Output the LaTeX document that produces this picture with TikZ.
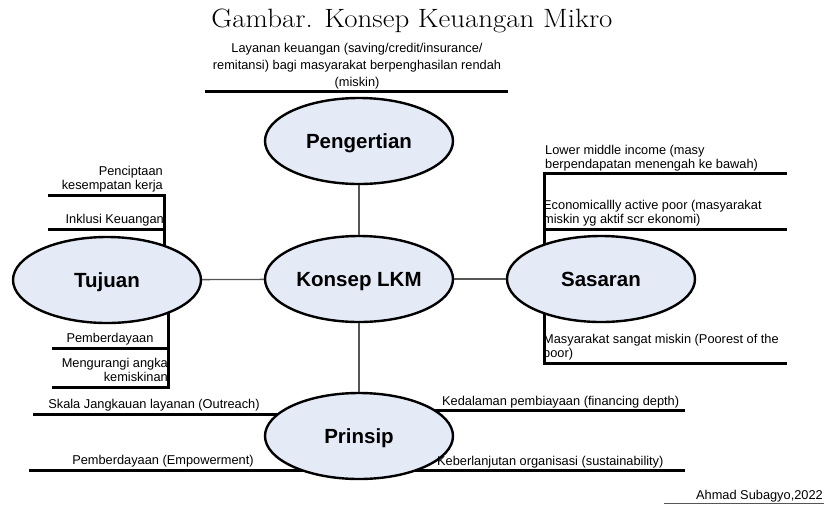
\documentclass[tikz,border=0pt]{standalone}
\usepackage{fontspec}
\setsansfont{Liberation Sans}
\usetikzlibrary{shapes.geometric,backgrounds}

\definecolor{bubblefill}{RGB}{228,234,246}
\definecolor{linkgray}{RGB}{85,85,85}

\begin{document}
\begin{tikzpicture}[x=1pt,y=-1pt,
  bubble/.style={ellipse, draw, line width=2.4pt, fill=bubblefill,
    minimum width=188pt, minimum height=86pt, inner sep=0pt,
    text height=14.5pt, text depth=0pt,
    font=\sffamily\bfseries\fontsize{20.5}{24}\selectfont},
  link/.style={draw=linkgray, line width=1.3pt},
  branch/.style={line width=3pt},
  note/.style={font=\sffamily\fontsize{12.8}{14.5}\selectfont, inner sep=0pt}]

\useasboundingbox (0,0) rectangle (824,504);

% Title
\node[anchor=base, font=\fontsize{26.5}{30}\selectfont] (title) at (412,27)
  {\scalebox{1.09}[1]{Gambar. Konsep Keuangan Mikro}};

% Bubbles
\node[bubble] (konsep)     at (359,279) {Konsep LKM};
\node[bubble] (pengertian) at (359,141) {Pengertian};
\node[bubble] (tujuan)     at (107,280) {Tujuan};
\node[bubble] (sasaran)    at (601,279) {Sasaran};
\node[bubble] (prinsip)    at (359,436) {Prinsip};

% Links to the centre
\draw[link] (konsep) -- (pengertian);
\draw[link] (konsep) -- (prinsip);
\draw[link] (konsep) -- (tujuan);
\draw[link] (konsep) -- (sasaran);

% Branch end points
\coordinate (pgL) at (205,91);   \coordinate (pgR) at (508,91);
\coordinate (tuA) at (164,195);  \coordinate (tuA1) at (48,195);
\coordinate (tuA2) at (48,229);  \coordinate (tuA2r) at (164,229);
\coordinate (tuB) at (168,387);  \coordinate (tuB1) at (52,387);
\coordinate (tuB2) at (52,348);  \coordinate (tuB2r) at (168,348);
\coordinate (saA) at (544,173);  \coordinate (saA1) at (787,173);
\coordinate (saA2) at (787,229); \coordinate (saA2l) at (544,229);
\coordinate (saB) at (544,363);  \coordinate (saB1) at (787,363);
\coordinate (prL1) at (33,414);  \coordinate (prL2) at (29,470);
\coordinate (prR1) at (685,410); \coordinate (prR2) at (685,470);
\coordinate (crL) at (664,503);  \coordinate (crR) at (824,503);

% Branches (behind the bubbles)
\begin{scope}[on background layer]
  \draw[branch] (pgL) -- (pgR);
  \draw[branch] (tuA1) -- (tuA) -- (tujuan.center -| tuA);
  \draw[branch] (tuA2) -- (tuA2r);
  \draw[branch] (tujuan.center -| tuB) -- (tuB) -- (tuB1);
  \draw[branch] (tuB2) -- (tuB2r);
  \draw[branch] (saA1) -- (saA) -- (sasaran.center -| saA);
  \draw[branch] (saA2l) -- (saA2);
  \draw[branch] (sasaran.center -| saB) -- (saB) -- (saB1);
  \draw[branch] (prL1) -- (prinsip.center |- prL1);
  \draw[branch] (prL2) -- (prinsip.center |- prL2);
  \draw[branch] (prinsip.center |- prR1) -- (prR1);
  \draw[branch] (prinsip.center |- prR2) -- (prR2);
\end{scope}
\draw[linkgray, line width=0.6pt] (crL) -- (crR);

% Labels
\node[note, align=center, font=\sffamily\fontsize{12.8}{17}\selectfont] (pgtext) at (357,66)
  {Layanan keuangan (saving/credit/insurance/\\remitansi) bagi masyarakat berpenghasilan rendah\\(miskin)};
\node[note, align=right, anchor=east] (tuA1text) at (163,179) {Penciptaan\\kesempatan kerja};
\node[note, anchor=east] (tuA2text) at (164,220) {Inklusi Keuangan};
\node[note] (tuB2text) at (110,339) {Pemberdayaan};
\node[note, align=right, anchor=east] (tuB1text) at (168,370) {Mengurangi angka\\kemiskinan};
\node[note, align=left, anchor=west] (saA1text) at (545,158)
  {Lower middle income (masy\\berpendapatan menengah ke bawah)};
\node[note, align=left, anchor=west] (saA2text) at (543,213)
  {Economicallly active poor (masyarakat\\miskin yg aktif scr ekonomi)};
\node[note, align=left, anchor=west] (saB1text) at (543,347)
  {Masyarakat sangat miskin (Poorest of the\\poor)};
\node[note] (prL1text) at (154,405) {Skala Jangkauan layanan (Outreach)};
\node[note] (prL2text) at (163,461) {Pemberdayaan (Empowerment)};
\node[note, anchor=west] (prR1text) at (442,402) {Kedalaman pembiayaan (financing depth)};
\node[note, anchor=west] (prR2text) at (437,462) {Keberlanjutan organisasi (sustainability)};
\node[note, anchor=east] (credit) at (823,496) {Ahmad Subagyo,2022};

\end{tikzpicture}
\end{document}
